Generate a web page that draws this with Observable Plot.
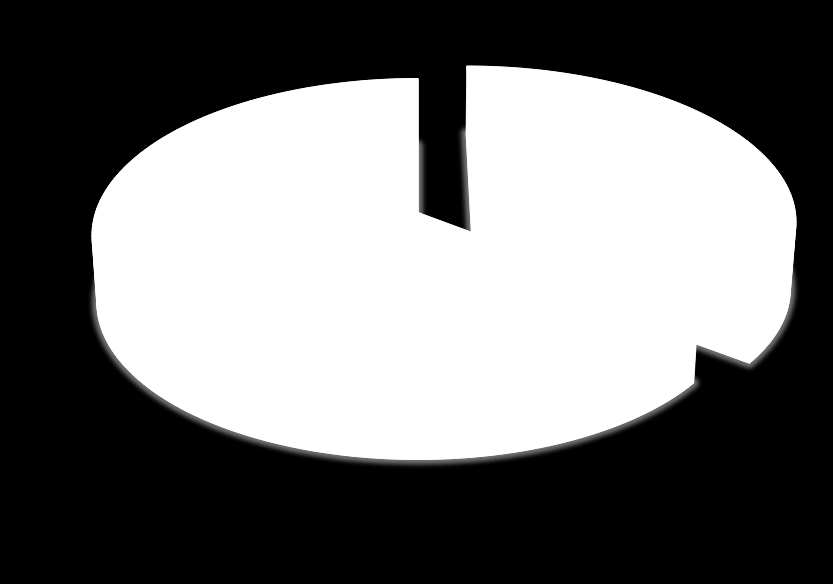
<!DOCTYPE html>
<html>
<head>
<meta charset="utf-8">
<script src="https://cdn.jsdelivr.net/npm/d3@7"></script>
<script src="https://cdn.jsdelivr.net/npm/@observablehq/plot@0.6"></script>
<style>
html,body{margin:0;padding:0;background:#000;overflow:hidden}
.glow{filter:blur(2px)}
svg{display:block}
</style>
</head>
<body>
<div id="chart"></div>
<script>
const sliceNames = ["A", "B"];
const sliceValues = [35.5, 64.5];

// Projection of the tilted disc onto the page (geometry, not data)
const W = 833, H = 584;
const view = {x0: 417.5, y0: 212, a: 322.5, b: 153.6, k: 0.1465, depth: 67, shrink: 0.985};
const offsets = {A: [0.176, -0.108], B: [0, 0]};

function project(u, v, lower) {
  const d = 1 - view.k * v;
  const s = lower ? view.shrink : 1;
  return {
    x: view.x0 + s * view.a * u / d,
    y: view.y0 + (lower ? view.depth : 0) + view.b * v / d
  };
}

const arcs = d3.pie().sort(null).value(d => d)(sliceValues);
const rows = [], outlines = [];
arcs.forEach((arc, i) => {
  const name = sliceNames[i];
  const [ou, ov] = offsets[name];
  const n = Math.ceil((arc.endAngle - arc.startAngle) * 40);
  const rim = d3.range(n + 1).map(j => arc.startAngle + (arc.endAngle - arc.startAngle) * j / n);
  const pt = (t, r, lower) => project(ou + r * Math.sin(t), ov - r * Math.cos(t), lower);
  const add = (key, pts, list) => pts.forEach(p => list.push({key: name + key, ...p}));
  const wedge = lower => [pt(0, 0, lower), ...rim.map(t => pt(t, 1, lower)), pt(0, 0, lower)];
  add("top", wedge(false), rows);
  add("bottom", wedge(true), rows);
  add("bottom", wedge(true), outlines);
  for (let j = 0; j < n; j++) {
    add("side" + j, [pt(rim[j], 1, false), pt(rim[j + 1], 1, false), pt(rim[j + 1], 1, true), pt(rim[j], 1, true)], rows);
  }
  for (const t of [arc.startAngle, arc.endAngle]) {
    add("cut" + t, [pt(0, 0, false), pt(t, 1, false), pt(t, 1, true), pt(0, 0, true)], rows);
  }
});

const chart = Plot.plot({
  width: W, height: H,
  margin: 0,
  x: {domain: [0, W], range: [0, W], axis: null},
  y: {domain: [0, H], range: [0, H], axis: null},
  style: {background: "#000"},
  marks: [
    Plot.line(outlines, {x: "x", y: "y", z: "key", fill: "#707070", stroke: "#707070", strokeWidth: 10, strokeLinejoin: "round", className: "glow"}),
    Plot.line(rows, {x: "x", y: "y", z: "key", fill: "#fff", stroke: "#fff", strokeWidth: 0.8})
  ]
});
document.getElementById("chart").appendChild(chart);
</script>
</body>
</html>
